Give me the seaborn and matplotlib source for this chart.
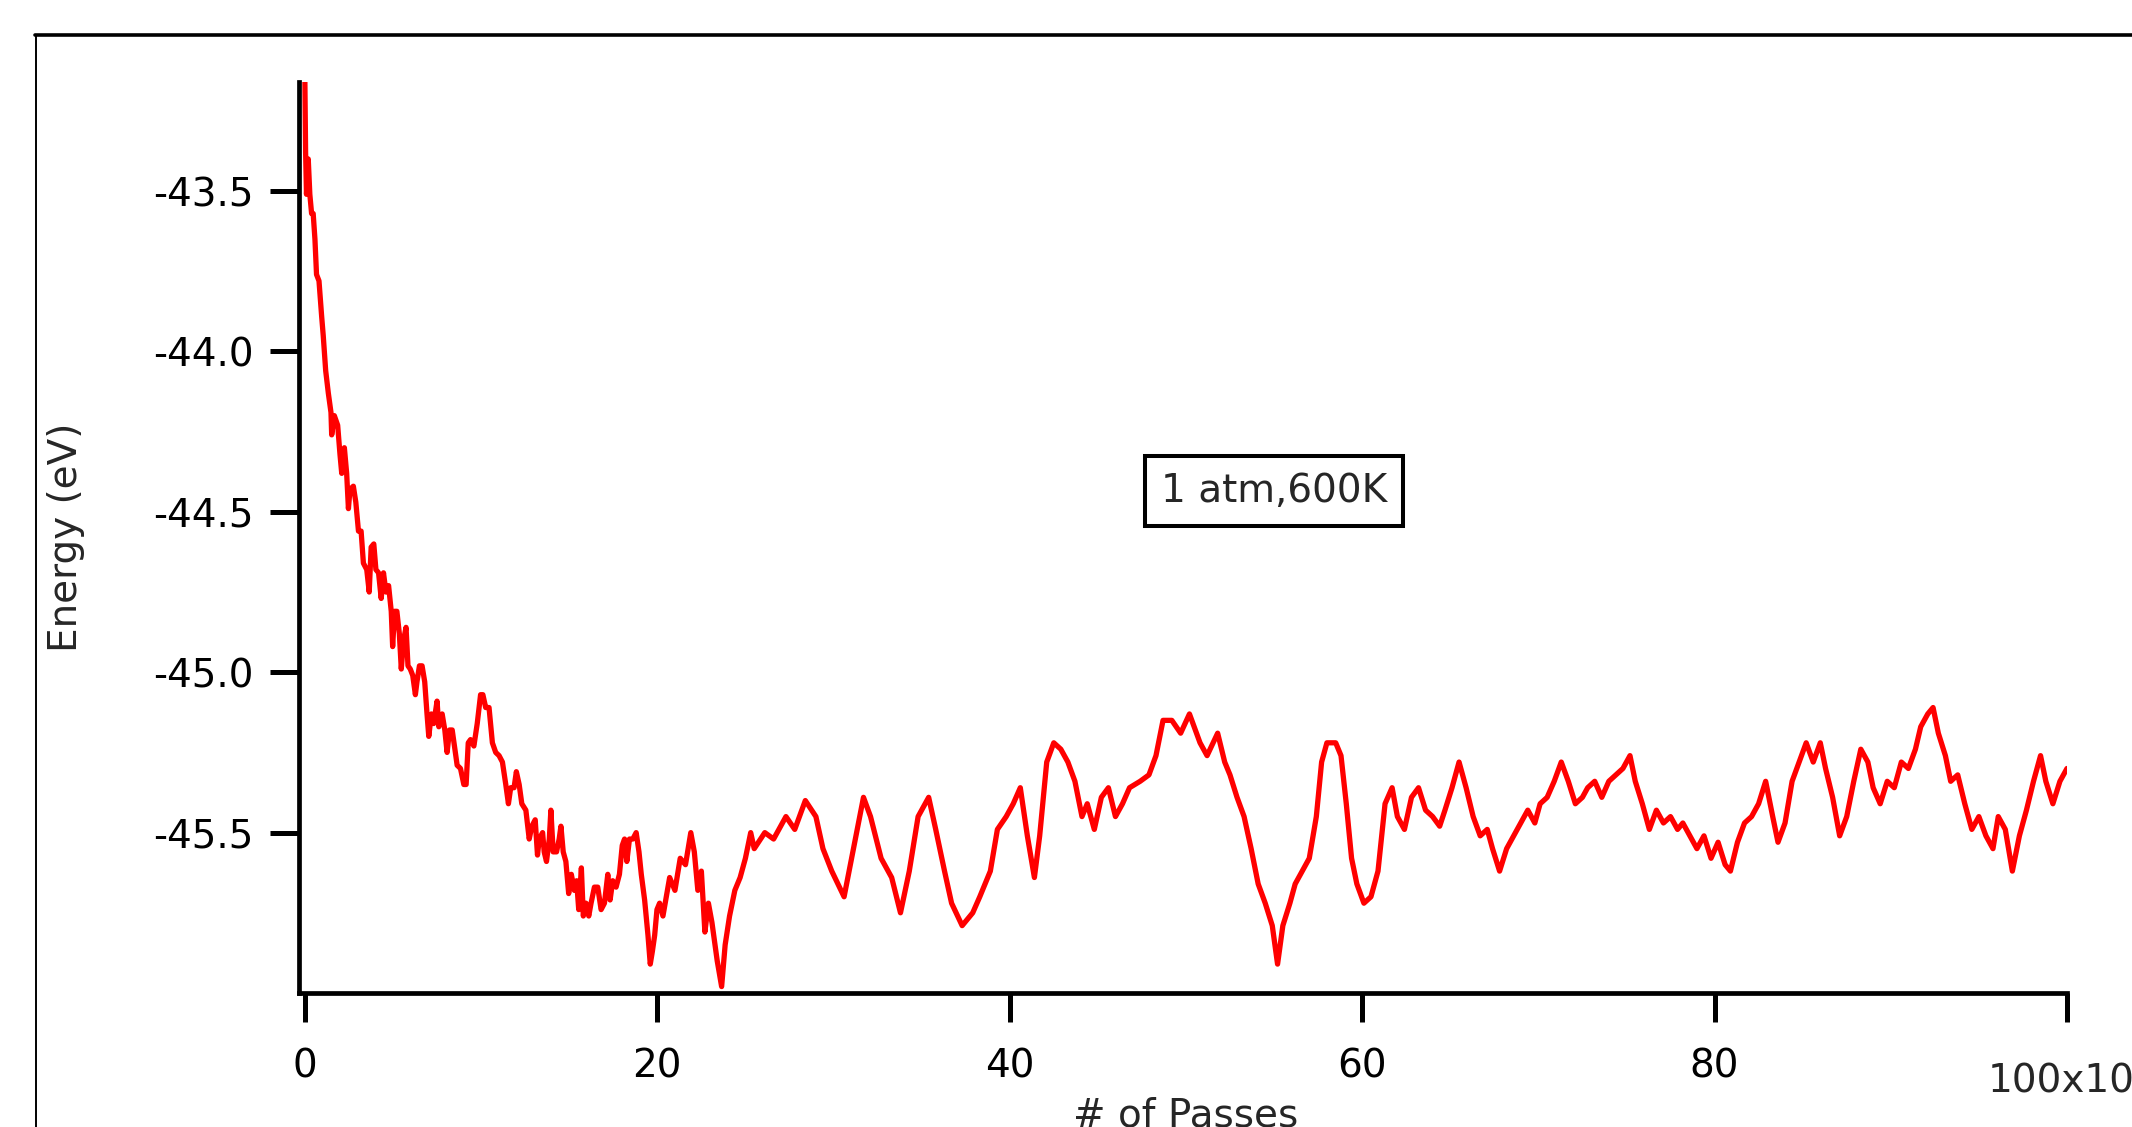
import numpy as np
import pandas as pd
import matplotlib
matplotlib.use("Agg")
import matplotlib.pyplot as plt
from matplotlib.lines import Line2D
import seaborn as sns

# energy trace, x in units of 1000 passes
warmup_passes = [0.00, 0.04, 0.09, 0.19, 0.28, 0.38, 0.47, 0.57, 0.66, 0.80, 0.95, 1.04,
                 1.18, 1.33, 1.48, 1.52, 1.67, 1.86, 1.99, 2.09, 2.24, 2.37, 2.47, 2.56,
                 2.75, 2.89, 3.04, 3.19, 3.32, 3.51, 3.65, 3.76, 3.91, 4.03, 4.18, 4.33,
                 4.46, 4.60, 4.75, 4.90, 4.98, 5.09, 5.22, 5.36, 5.47, 5.60, 5.74, 5.85,
                 5.98, 6.12, 6.27, 6.36, 6.50, 6.65, 6.80, 6.93, 7.03, 7.18, 7.31, 7.50,
                 7.60, 7.79, 7.94, 8.07, 8.21, 8.36, 8.51, 8.64, 8.83, 9.02, 9.15, 9.27,
                 9.40, 9.59, 9.78, 9.97, 10.10, 10.26, 10.45, 10.64, 10.83, 11.02, 11.21, 11.40,
                 11.55, 11.68, 11.87, 12.00, 12.16, 12.31, 12.54, 12.73, 12.88, 13.07, 13.20, 13.30,
                 13.49, 13.58, 13.71, 13.87, 13.96, 14.09, 14.28, 14.43, 14.53, 14.66, 14.81, 14.97,
                 15.12, 15.29, 15.42, 15.54, 15.69, 15.80, 15.95, 16.11, 16.24, 16.43, 16.62, 16.81,
                 17.00, 17.19, 17.32, 17.47, 17.66, 17.85, 18.01, 18.14, 18.27, 18.42, 18.61, 18.80,
                 18.96, 19.09, 19.28, 19.47, 19.60, 19.72, 19.85, 19.98, 20.13, 20.32]
warmup_energy = [-43.16, -43.38, -43.51, -43.40, -43.51, -43.57, -43.57, -43.65, -43.76, -43.78, -43.89, -43.95,
                 -44.06, -44.13, -44.19, -44.26, -44.20, -44.23, -44.32, -44.38, -44.30, -44.38, -44.49, -44.43,
                 -44.42, -44.47, -44.56, -44.56, -44.66, -44.68, -44.75, -44.61, -44.60, -44.68, -44.69, -44.77,
                 -44.69, -44.75, -44.73, -44.81, -44.92, -44.81, -44.81, -44.88, -44.99, -44.90, -44.86, -44.98,
                 -44.99, -45.01, -45.07, -45.03, -44.98, -44.98, -45.03, -45.13, -45.20, -45.13, -45.16, -45.09,
                 -45.17, -45.13, -45.18, -45.25, -45.18, -45.18, -45.24, -45.29, -45.30, -45.35, -45.35, -45.22,
                 -45.21, -45.23, -45.16, -45.07, -45.07, -45.11, -45.11, -45.22, -45.25, -45.26, -45.28, -45.35,
                 -45.41, -45.36, -45.36, -45.31, -45.35, -45.41, -45.43, -45.52, -45.48, -45.46, -45.57, -45.52,
                 -45.50, -45.56, -45.59, -45.52, -45.43, -45.56, -45.56, -45.52, -45.48, -45.56, -45.59, -45.69,
                 -45.63, -45.68, -45.65, -45.74, -45.61, -45.76, -45.72, -45.76, -45.72, -45.67, -45.67, -45.74,
                 -45.72, -45.63, -45.71, -45.65, -45.67, -45.63, -45.54, -45.52, -45.59, -45.52, -45.52, -45.50,
                 -45.56, -45.63, -45.71, -45.82, -45.91, -45.87, -45.82, -45.74, -45.72, -45.76]

equil_passes = [20.7, 21.0, 21.3, 21.6, 21.9, 22.1, 22.3, 22.5, 22.7, 22.9, 23.1, 23.4,
                23.65, 23.85, 24.1, 24.4, 24.7, 25.0, 25.3, 25.5, 26.1, 26.6, 27.3, 27.8,
                28.4, 29.0, 29.4, 29.9, 30.6, 31.2, 31.7, 32.1, 32.7, 33.3, 33.8, 34.3,
                34.8, 35.4, 35.8, 36.3, 36.7, 37.3, 37.9, 38.3, 38.9, 39.3, 39.8, 40.2,
                40.6, 41.0, 41.4, 41.7, 42.1, 42.5, 42.9, 43.3, 43.7, 44.1, 44.4, 44.8,
                45.2, 45.6, 46.0, 46.4, 46.8, 47.4, 47.9, 48.3, 48.7, 49.2, 49.7, 50.2,
                50.8, 51.2, 51.8, 52.2, 52.5, 52.9, 53.3, 53.7, 54.1, 54.5, 54.9, 55.2,
                55.5, 55.9, 56.2, 56.6, 57.0, 57.4, 57.7, 58.0, 58.5, 58.8, 59.1, 59.4,
                59.7, 60.1, 60.5, 60.9, 61.3, 61.7, 62.0, 62.4, 62.8, 63.2, 63.6, 64.0,
                64.4, 64.7, 65.1, 65.5, 65.9, 66.3, 66.7, 67.1, 67.4, 67.8, 68.2, 68.6,
                69.0, 69.4, 69.8, 70.1, 70.5, 70.9, 71.3, 71.7, 72.1, 72.5, 72.8, 73.2,
                73.6, 74.0, 74.4, 74.8, 75.2, 75.5, 75.9, 76.3, 76.7, 77.1, 77.5, 77.9,
                78.2, 78.6, 79.0, 79.4, 79.8, 80.2, 80.6, 80.9, 81.3, 81.7, 82.1, 82.5,
                82.9, 83.3, 83.6, 84.0, 84.4, 84.8, 85.2, 85.6, 86.0, 86.3, 86.7, 87.1,
                87.5, 87.9, 88.3, 88.7, 89.0, 89.4, 89.8, 90.2, 90.6, 91.0, 91.4, 91.7,
                92.1, 92.4, 92.7, 93.1, 93.4, 93.8, 94.2, 94.6, 95.0, 95.4, 95.8, 96.1,
                96.5, 96.9, 97.3, 97.7, 98.1, 98.5, 98.8, 99.2, 99.6, 100.0]
equil_energy = [-45.64, -45.68, -45.58, -45.60, -45.50, -45.56, -45.68, -45.62, -45.81, -45.72, -45.78, -45.90,
                -45.98, -45.85, -45.76, -45.68, -45.64, -45.58, -45.50, -45.55, -45.50, -45.52, -45.45, -45.49,
                -45.40, -45.45, -45.55, -45.62, -45.70, -45.53, -45.39, -45.45, -45.58, -45.64, -45.75, -45.62,
                -45.45, -45.39, -45.49, -45.62, -45.72, -45.79, -45.75, -45.70, -45.62, -45.49, -45.45, -45.41,
                -45.36, -45.51, -45.64, -45.51, -45.28, -45.22, -45.24, -45.28, -45.34, -45.45, -45.41, -45.49,
                -45.39, -45.36, -45.45, -45.41, -45.36, -45.34, -45.32, -45.26, -45.15, -45.15, -45.19, -45.13,
                -45.22, -45.26, -45.19, -45.28, -45.32, -45.39, -45.45, -45.55, -45.66, -45.72, -45.79, -45.91,
                -45.79, -45.72, -45.66, -45.62, -45.58, -45.45, -45.28, -45.22, -45.22, -45.26, -45.41, -45.58,
                -45.66, -45.72, -45.70, -45.62, -45.41, -45.36, -45.45, -45.49, -45.39, -45.36, -45.43, -45.45,
                -45.48, -45.43, -45.36, -45.28, -45.36, -45.45, -45.51, -45.49, -45.55, -45.62, -45.55, -45.51,
                -45.47, -45.43, -45.47, -45.41, -45.39, -45.34, -45.28, -45.34, -45.41, -45.39, -45.36, -45.34,
                -45.39, -45.34, -45.32, -45.30, -45.26, -45.34, -45.41, -45.49, -45.43, -45.47, -45.45, -45.49,
                -45.47, -45.51, -45.55, -45.51, -45.58, -45.53, -45.60, -45.62, -45.53, -45.47, -45.45, -45.41,
                -45.34, -45.45, -45.53, -45.47, -45.34, -45.28, -45.22, -45.28, -45.22, -45.30, -45.39, -45.51,
                -45.45, -45.34, -45.24, -45.28, -45.36, -45.41, -45.34, -45.36, -45.28, -45.30, -45.24, -45.17,
                -45.13, -45.11, -45.19, -45.26, -45.34, -45.32, -45.41, -45.49, -45.45, -45.51, -45.55, -45.45,
                -45.49, -45.62, -45.51, -45.43, -45.34, -45.26, -45.34, -45.41, -45.34, -45.30]

x_ticks = [0, 20, 40, 60, 80, 100]
x_ticklabels = ["0", "20", "40", "60", "80", ""]
y_ticks = [-45.5, -45.0, -44.5, -44.0, -43.5]

df = pd.DataFrame({
    "passes": warmup_passes + equil_passes,
    "energy": warmup_energy + equil_energy,
})

sns.set_style("white")
plt.rcParams["font.family"] = ["DejaVu Sans"]

fig = plt.figure(figsize=(21.32, 11.27), dpi=100)
ax = fig.add_axes([0.1402, 0.1189, 0.8293, 0.8083])

sns.lineplot(data=df, x="passes", y="energy", ax=ax, color="#ff0000",
             linewidth=3.8, estimator=None, sort=False)

ax.set_xlim(-0.34, 100)
ax.set_ylim(-46.0, -43.16)

for side in ["top", "right"]:
    ax.spines[side].set_visible(False)
for side in ["left", "bottom"]:
    ax.spines[side].set_linewidth(3.4)
    ax.spines[side].set_color("black")

ax.set_xticks(x_ticks)
ax.set_xticklabels(x_ticklabels)
ax.set_yticks(y_ticks)
ax.set_yticklabels([f"{v:.1f}" for v in y_ticks])
ax.tick_params(axis="both", direction="out", length=21, width=3.6, color="black",
               labelsize=28, labelcolor="black", bottom=True, left=True)
ax.tick_params(axis="x", pad=18)
ax.tick_params(axis="y", pad=11.5)

ax.set_xlabel("")
ax.set_ylabel("Energy (eV)", fontsize=28)
ax.yaxis.set_label_coords(-0.121, 0.5)

fig.text(1186 / 2132, 0.027, "# of Passes", ha="center", va="top", fontsize=28)
fig.text(1988 / 2132, 0.0408, "100x10", ha="left", va="center", fontsize=28)

ax.text(55.0, -44.435, "1 atm,600K", ha="center", va="center", fontsize=28,
        bbox=dict(boxstyle="square,pad=0.4", fc="white", ec="black", lw=2.9))

# outer frame (partly off the page, like the source export)
top_y = (1127 - 34.5) / 1127
fig.add_artist(Line2D([35.5 / 2132, 35.5 / 2132], [0, top_y], color="black", lw=1.4,
                      transform=fig.transFigure))
fig.add_artist(Line2D([35 / 2132, 1.0], [top_y, top_y], color="black", lw=2.6,
                      transform=fig.transFigure))

fig.savefig("out.png", dpi=100)
